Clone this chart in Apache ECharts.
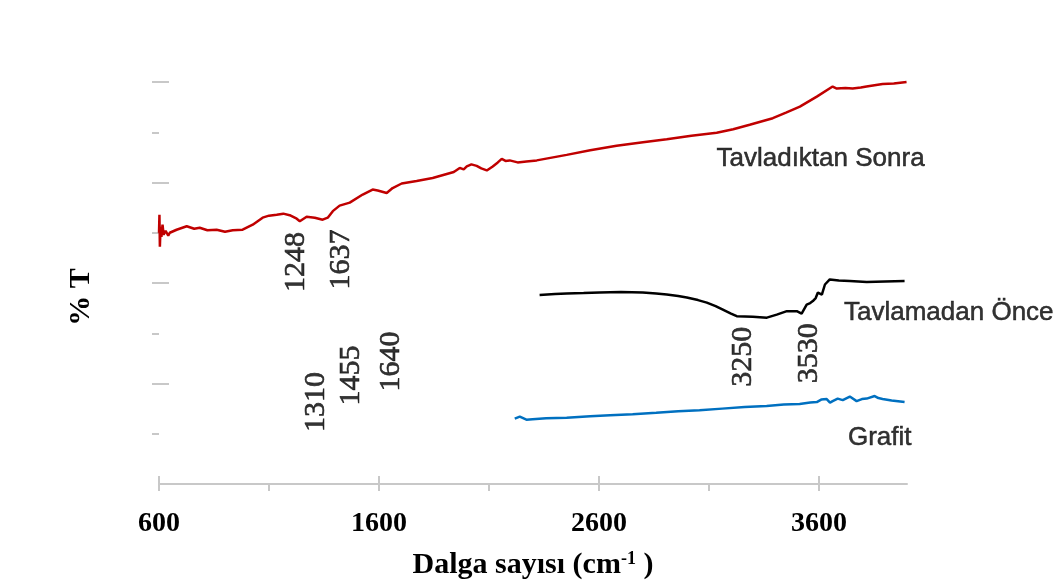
<!DOCTYPE html>
<html>
<head>
<meta charset="utf-8">
<script src="https://cdn.jsdelivr.net/npm/echarts@6/dist/echarts.min.js"></script>
<style>
html,body{margin:0;padding:0;background:#fff;}
#chart{width:1060px;height:585px;}
</style>
</head>
<body>
<div id="chart"></div>
<script>
// ---- data (wavenumber cm-1, %T in arbitrary offset units) ----
const xTicks = [600, 1600, 2600, 3600];
const xMinorTicks = [1100, 2100, 3100];
const yMajorTicks = [20, 40, 60, 80];
const yAllTicks = [10, 20, 30, 40, 50, 60, 70, 80];

const tavladiktanSonra = [
  [600,50.0],[602,53.6],[604,47.2],[607,51.2],[611,49.2],[616,51.6],[621,49.6],[630,50.4],[642,49.4],
  [649,50.0],[680,50.6],[726,51.3],[760,50.8],[785,51.0],[820,50.5],[862,50.6],[900,50.2],[935,50.5],[980,50.6],
  [1026,51.6],[1071,53.0],[1100,53.4],[1135,53.6],[1165,53.8],[1194,53.5],[1226,52.8],[1240,52.3],[1271,53.2],
  [1308,53.0],[1344,52.6],[1367,53.0],[1390,54.3],[1421,55.4],[1467,56.0],[1526,57.6],[1571,58.6],
  [1594,58.4],[1635,57.9],[1662,58.9],[1703,59.8],[1771,60.3],[1844,60.9],[1908,61.7],[1940,62.1],
  [1967,62.9],[1985,62.6],[1999,63.2],[2020,63.6],[2044,63.3],[2065,62.8],[2090,62.4],[2117,63.2],
  [2140,64.0],[2158,64.7],[2175,64.3],[2194,64.4],[2230,64.0],[2270,64.2],[2317,64.4],[2453,65.5],
  [2560,66.4],[2680,67.3],[2800,68.0],[2908,68.6],[3020,69.3],[3135,69.9],[3210,70.6],[3285,71.5],
  [3390,72.8],[3450,73.9],[3513,75.1],[3590,77.1],[3662,79.1],[3681,78.7],[3720,78.8],[3753,78.7],
  [3790,78.9],[3816,79.1],[3889,79.6],[3940,79.7],[3998,80.0]
];
const tavlamadanOnce = [
  [2330,37.6],[2400,37.8],[2453,37.9],[2530,38.0],[2603,38.1],[2700,38.2],[2799,38.1],[2860,37.9],
  [2908,37.7],[2960,37.4],[2999,37.1],[3050,36.6],[3090,36.1],[3130,35.4],[3163,34.7],[3200,33.9],
  [3226,33.4],[3299,33.3],[3363,33.1],[3408,33.7],[3454,34.4],[3499,34.4],[3521,33.9],[3544,35.7],
  [3560,36.0],[3572,36.4],[3585,37.0],[3595,38.1],[3613,37.7],[3627,39.7],[3649,40.7],[3690,40.5],
  [3740,40.4],[3817,40.2],[3900,40.3],[3989,40.4]
];
const grafit = [
  [2217,13.0],[2240,13.4],[2270,12.8],[2298,12.9],[2360,13.1],[2453,13.2],[2560,13.5],[2650,13.7],
  [2753,13.9],[2860,14.2],[2960,14.5],[3057,14.7],[3160,15.0],[3262,15.3],[3362,15.5],[3440,15.8],
  [3512,15.9],[3560,16.2],[3590,16.3],[3610,16.8],[3635,16.9],[3650,16.2],[3662,16.5],[3685,17.0],
  [3708,16.7],[3740,17.4],[3771,16.5],[3795,16.9],[3817,17.0],[3853,17.5],[3870,17.1],[3889,16.9],
  [3930,16.6],[3989,16.3]
];
// peak annotations: [x, y, text]
const peakLabels = [
  [1224,44.2,'1248'],[1426,44.7,'1637'],
  [1314,16.3,'1310'],[1474,21.6,'1455'],[1655,24.4,'1640'],
  [3255,25.3,'3250'],[3557,26.0,'3530']
];
// curve names: [x, y, text]
const curveNames = [
  [3607,64.7,'Tavladıktan Sonra'],
  [4190,34.1,'Tavlamadan Önce'],
  [3876,9.1,'Grafit']
];

const gray = '#c8c8c8';
const chart = echarts.init(document.getElementById('chart'), null, {renderer:'canvas'});
const serif = 'Liberation Serif';
const sans = 'Liberation Sans';

chart.setOption({
  animation:false,
  backgroundColor:'#fff',
  grid:{left:159,right:153,top:82,bottom:100,containLabel:false},
  xAxis:[
    {type:'value',min:600,max:4000,position:'bottom',
     axisLine:{show:true,lineStyle:{color:gray,width:2}},
     axisTick:{show:true,length:7,customValues:xTicks,lineStyle:{color:gray,width:2}},
     axisLabel:{show:true,customValues:xTicks,formatter:v=>String(v),fontFamily:serif,fontWeight:'bold',fontSize:28,color:'#000',margin:26},
     splitLine:{show:false},
     name:'{a|Dalga sayısı (cm}{s|-1}{a| )}',nameLocation:'middle',nameGap:66,
     nameTextStyle:{rich:{a:{fontFamily:serif,fontWeight:'bold',fontSize:30,color:'#000'},
                          s:{fontFamily:serif,fontWeight:'bold',fontSize:18,color:'#000',verticalAlign:'top',padding:[0,0,10,0]}}}},
    {type:'value',min:600,max:4000,position:'bottom',
     axisLine:{show:false},
     axisTick:{show:true,inside:true,length:8,customValues:xTicks,lineStyle:{color:gray,width:2}},
     axisLabel:{show:false},splitLine:{show:false}},
    {type:'value',min:600,max:4000,position:'bottom',
     axisLine:{show:false},
     axisTick:{show:true,length:7,customValues:xMinorTicks,lineStyle:{color:gray,width:2}},
     axisLabel:{show:false},splitLine:{show:false}}
  ],
  yAxis:[
    {type:'value',min:0,max:80,position:'left',
     axisLine:{show:false},
     axisTick:{show:true,length:7,customValues:yAllTicks,lineStyle:{color:gray,width:2}},
     axisLabel:{show:false},splitLine:{show:false},
     name:'% T',nameLocation:'middle',nameRotate:90,nameGap:63,
     nameTextStyle:{fontFamily:serif,fontWeight:'bold',fontSize:30,color:'#000',padding:[0,28,0,0]}},
    {type:'value',min:0,max:80,position:'left',
     axisLine:{show:false},
     axisTick:{show:true,inside:true,length:10,customValues:yMajorTicks,lineStyle:{color:gray,width:2}},
     axisLabel:{show:false},splitLine:{show:false}}
  ],
  series:[
    {type:'line',name:'Tavladıktan Sonra',data:tavladiktanSonra,showSymbol:false,clip:false,
     lineStyle:{color:'#c00000',width:2.5},itemStyle:{color:'#c00000'}},
    {type:'line',name:'Tavlamadan Önce',data:tavlamadanOnce,showSymbol:false,clip:false,
     lineStyle:{color:'#000000',width:2.5},itemStyle:{color:'#000'}},
    {type:'line',name:'Grafit',data:grafit,showSymbol:false,clip:false,
     lineStyle:{color:'#0070c0',width:2.5},itemStyle:{color:'#0070c0'}},
    {type:'scatter',data:peakLabels,symbolSize:0,clip:false,silent:true,itemStyle:{color:'#000'},
     label:{show:true,position:'inside',rotate:90,formatter:p=>p.data[2],
            fontFamily:serif,fontSize:30,color:'#000',textBorderColor:'#000',textBorderWidth:0.6}},
    {type:'scatter',data:curveNames,symbolSize:0,clip:false,silent:true,itemStyle:{color:'#000'},
     label:{show:true,position:'inside',formatter:p=>p.data[2],
            fontFamily:sans,fontSize:26,color:'#000',textBorderColor:'#000',textBorderWidth:0.5}}
  ]
});
</script>
</body>
</html>
